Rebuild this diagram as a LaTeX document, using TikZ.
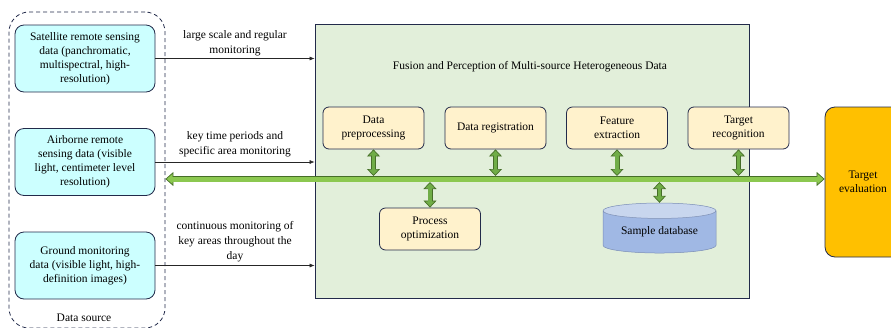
\documentclass[tikz,border=0pt]{standalone}
\usepackage{fontspec}
\setmainfont{Liberation Serif}
\usetikzlibrary{arrows.meta, calc, shapes.geometric, positioning}

\definecolor{navyline}{RGB}{34,42,74}
\definecolor{srccyan}{RGB}{204,255,255}
\definecolor{fusgreen}{RGB}{226,239,218}
\definecolor{stepyellow}{RGB}{255,242,204}
\definecolor{evalorange}{RGB}{255,192,0}
\definecolor{arrgreen}{RGB}{112,173,71}
\definecolor{busgreen}{RGB}{140,200,80}
\definecolor{arrdark}{RGB}{70,110,40}
\definecolor{dbtop}{RGB}{200,214,238}
\definecolor{dbbody}{RGB}{160,184,228}

\tikzset{
  srcnode/.style={draw=navyline, line width=0.8pt, fill=srccyan, rounded corners=9pt, minimum width=140, minimum height=67, align=center, inner sep=0pt},
  stepnode/.style={draw=navyline, line width=0.8pt, fill=stepyellow, rounded corners=6pt, minimum width=101, minimum height=42, align=center, inner sep=0pt},
  feedarrow/.style={-{Latex[length=5pt,width=4pt]}, black!85, line width=0.6pt},
  feedlabel/.style={align=center, font=\fontsize{11.5}{15}\selectfont},
  dblblock/.style={draw=arrdark, line width=5pt,
    {Triangle[length=7pt,width=13pt,line width=0.7pt,fill=arrgreen]}-{Triangle[length=7pt,width=13pt,line width=0.7pt,fill=arrgreen]},
    postaction={draw=arrgreen, line width=3.6pt, -, shorten <=5.5pt, shorten >=5.5pt}},
  busblock/.style={draw=arrdark, line width=6.5pt,
    {Triangle[length=8pt,width=14pt,line width=0.7pt,fill=busgreen]}-{Triangle[length=8pt,width=14pt,line width=0.7pt,fill=busgreen]},
    postaction={draw=busgreen, line width=5pt, -, shorten <=6.5pt, shorten >=6.5pt}}
}

\begin{document}
\begin{tikzpicture}[x=1pt, y=-1pt, font=\fontsize{11.5}{14}\selectfont]
  \useasboundingbox (0,0) rectangle (891,327);

  % --- Data source group (left) ---
  \node[draw=navyline, line width=0.8pt, dashed, dash pattern=on 4pt off 3pt, rounded corners=20pt, minimum width=156, minimum height=316, inner sep=0pt] (srcbox) at (87,170) {};
  \node[srcnode] (sat) at (85,58.5) {Satellite remote sensing\\data (panchromatic,\\multispectral, high-\\resolution)};
  \node[srcnode] (air) at (85,162) {Airborne remote\\sensing data (visible\\light, centimeter level\\resolution)};
  \node[srcnode] (gnd) at (85,265.5) {Ground monitoring\\data (visible light, high-\\definition images)};
  \node (srclabel) at (84,318) {Data source};

  % --- Fusion block (middle) ---
  \node[draw=navyline, line width=0.8pt, fill=fusgreen, minimum width=434, minimum height=274, inner sep=0pt] (fusion) at (532,161) {};
  \node (fustitle) at (530,67) {Fusion and Perception of Multi-source Heterogeneous Data};

  \node[stepnode] (prep) at (373.5,128) {Data\\preprocessing};
  \node[stepnode] (reg) at (495.5,128) {Data registration};
  \node[stepnode] (feat) at (617,128) {Feature\\extraction};
  \node[stepnode] (recog) at (738.5,128) {Target\\recognition};
  \node[stepnode] (procopt) at (430,229) {Process\\optimization};

  \node[cylinder, shape border rotate=90, aspect=0.2, draw=dbbody!70!navyline, line width=0.5pt,
        cylinder uses custom fill, cylinder end fill=dbtop, cylinder body fill=dbbody,
        minimum width=113, minimum height=50, inner sep=0pt] (sampledb) at (659.5,232) {Sample database};

  % --- Target evaluation (right, cut by the page) ---
  \node[draw=navyline, line width=0.8pt, fill=evalorange, rounded corners=10pt, minimum width=76, minimum height=150, align=center] (target) at (863,182) {Target\\evaluation};

  % --- Feeds from the sources ---
  \draw[feedarrow] (sat.east) -- (sat.east -| fusion.west);
  \draw[feedarrow] (air.east) -- (air.east -| fusion.west);
  \draw[feedarrow] (gnd.east) -- (gnd.east -| fusion.west);
  \node[feedlabel] (satlabel) at (235,43) {large scale and regular\\monitoring};
  \node[feedlabel] (airlabel) at (235,144) {key time periods and\\specific area monitoring};
  \node[feedlabel] (gndlabel) at (235,242) {continuous monitoring of\\key areas throughout the\\day};

  % --- Data bus ---
  \coordinate (busL) at (srcbox.east |- 0,179);
  \coordinate (bustop) at (0,176);
  \coordinate (busbot) at (0,182);
  \draw[busblock] (busL) -- (target.west |- busL);

  % --- Links to the bus ---
  \foreach \step in {prep,reg,feat,recog}{
    \draw[dblblock] (\step.south) -- (\step.south |- bustop);
  }
  \draw[dblblock] (procopt.north |- busbot) -- (procopt.north);
  \draw[dblblock] (sampledb.north |- busbot) -- (sampledb.north);

\end{tikzpicture}
\end{document}
